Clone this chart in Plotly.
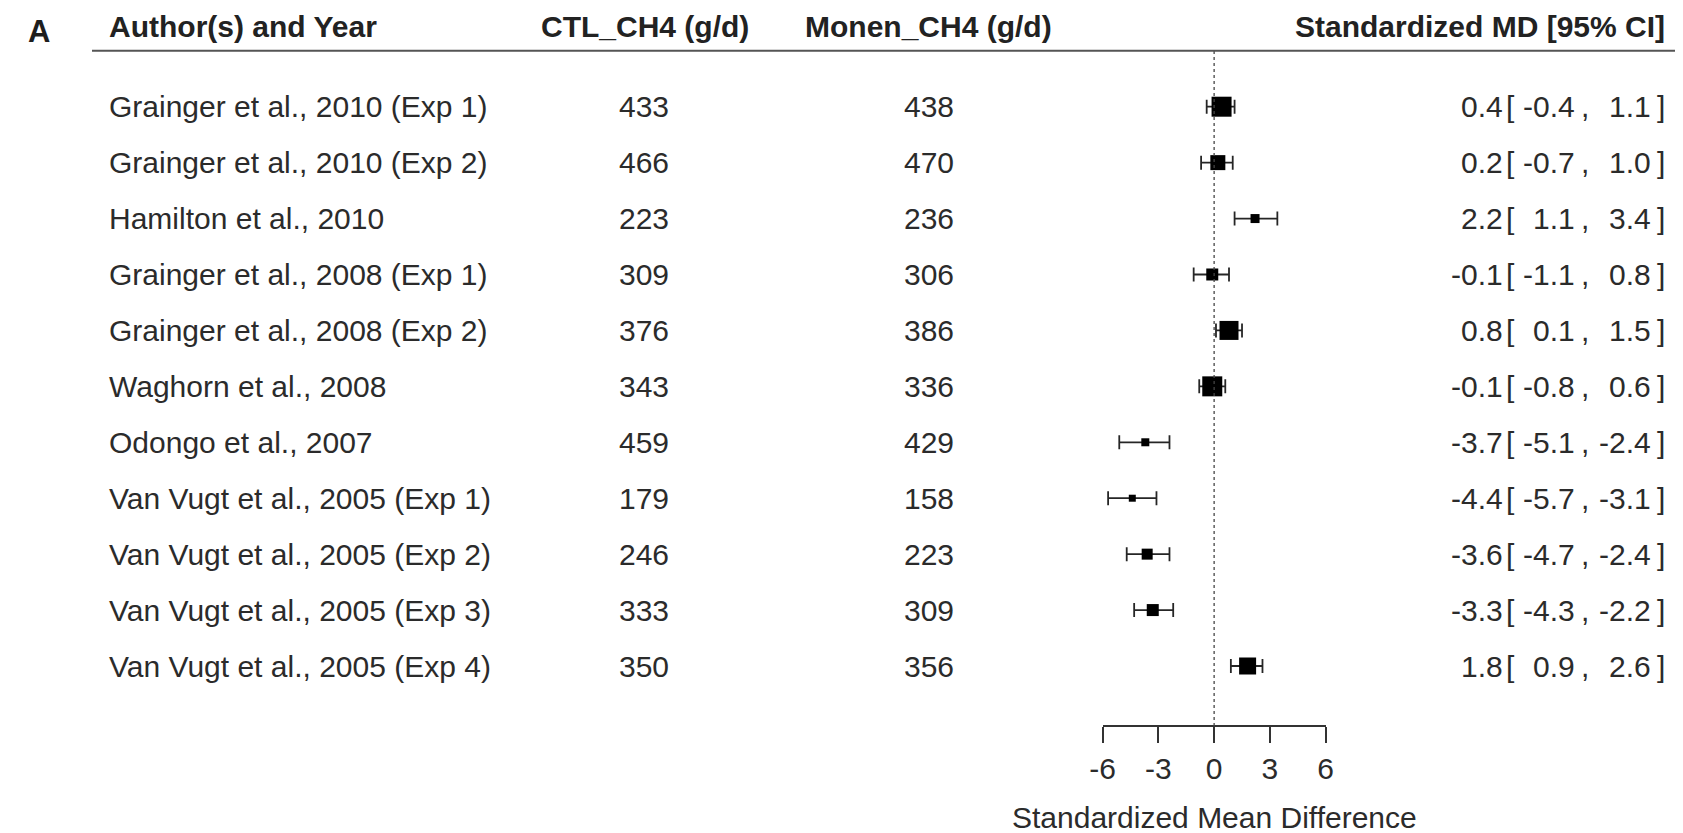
import plotly.graph_objects as go

# ---- study-level data -------------------------------------------------------
studies = [
    "Grainger et al., 2010 (Exp 1)",
    "Grainger et al., 2010 (Exp 2)",
    "Hamilton et al., 2010",
    "Grainger et al., 2008 (Exp 1)",
    "Grainger et al., 2008 (Exp 2)",
    "Waghorn et al., 2008",
    "Odongo et al., 2007",
    "Van Vugt et al., 2005 (Exp 1)",
    "Van Vugt et al., 2005 (Exp 2)",
    "Van Vugt et al., 2005 (Exp 3)",
    "Van Vugt et al., 2005 (Exp 4)",
]
ctl_ch4 = [433, 466, 223, 309, 376, 343, 459, 179, 246, 333, 350]
monen_ch4 = [438, 470, 236, 306, 386, 336, 429, 158, 223, 309, 356]
smd = [0.4, 0.2, 2.2, -0.1, 0.8, -0.1, -3.7, -4.4, -3.6, -3.3, 1.8]
ci_low = [-0.4, -0.7, 1.1, -1.1, 0.1, -0.8, -5.1, -5.7, -4.7, -4.3, 0.9]
ci_high = [1.1, 1.0, 3.4, 0.8, 1.5, 0.6, -2.4, -3.1, -2.4, -2.2, 2.6]

x_ticks = [-6, -3, 0, 3, 6]

# box size (px) reflecting each study's weight
box_px = [20, 15, 9, 12, 19, 20, 8, 7, 11, 12, 17]

# ---- layout constants ---------------------------------------------------------
W, H = 1683, 833
FONT = "Liberation Sans, Arial, sans-serif"
FS = 30
TXT = "#2b2b2b"

k = len(studies)
rows = [k - i for i in range(k)]          # top study at y = k, last at y = 1
ROW_PX, TOP_ROW_PX = 55.93, 106.7           # row spacing / first row position


def px_x(px):
    return px / W


def px_y(py):
    return 1 - py / H


def row_of_px(py):
    return k + (TOP_ROW_PX - py) / ROW_PX


y_range = [row_of_px(H), row_of_px(0)]
axis_row = row_of_px(726)
header_row = k + 1

fig = go.Figure()

# 95% confidence intervals
fig.add_trace(go.Scatter(
    x=smd,
    y=rows,
    mode="markers",
    marker=dict(size=1, color="rgba(0,0,0,0)"),
    error_x=dict(
        type="data",
        symmetric=False,
        array=[h - m for h, m in zip(ci_high, smd)],
        arrayminus=[m - l for m, l in zip(smd, ci_low)],
        color="#262626",
        thickness=1.8,
        width=7,
    ),
    cliponaxis=False,
    showlegend=False,
    hoverinfo="skip",
))

# point estimates, box area by weight
fig.add_trace(go.Scatter(
    x=smd,
    y=rows,
    mode="markers",
    marker=dict(symbol="square", size=box_px, color="#000000", opacity=1,
                line=dict(width=0)),
    cliponaxis=False,
    showlegend=False,
    hoverinfo="skip",
))

shapes = [
    # line of no effect
    dict(type="line", xref="x", yref="y", x0=0, x1=0, y0=axis_row, y1=header_row,
         line=dict(color="#444444", width=1.3, dash="dot")),
    # rule under the column headers
    dict(type="line", xref="paper", yref="y", x0=px_x(80), x1=1, y0=header_row, y1=header_row,
         line=dict(color="#555555", width=2)),
]

ann = []


def text(x, y, s, anchor="left", yref="y", bold=False, size=FS, color=TXT):
    ann.append(dict(
        x=x, y=y, xref="paper", yref=yref, text=f"<b>{s}</b>" if bold else s,
        xanchor=anchor, yanchor="middle", showarrow=False,
        font=dict(family=FONT, size=size, color=color),
    ))


# panel letter and column headers
head_y = px_y(27)
text(px_x(26), px_y(32), "A", anchor="center", yref="paper", bold=True, size=31, color="#1e1e1e")
text(px_x(95), head_y, "Author(s) and Year", yref="paper", bold=True, color="#222222")
text(px_x(640), head_y, "CTL_CH4 (g/d)", anchor="center", yref="paper", bold=True, color="#222222")
text(px_x(927), head_y, "Monen_CH4 (g/d)", anchor="center", yref="paper", bold=True, color="#222222")
text(px_x(1675), head_y, "Standardized MD [95% CI]", anchor="right", yref="paper", bold=True,
     color="#222222")

# study rows
for yv, name, c, m, e, lo, hi in zip(rows, studies, ctl_ch4, monen_ch4, smd, ci_low, ci_high):
    text(px_x(95), yv, name)
    text(px_x(639), yv, str(c), anchor="center")
    text(px_x(928), yv, str(m), anchor="center")
    text(px_x(1511), yv, f"{e:.1f}", anchor="right")
    text(px_x(1510), yv, "[")
    text(px_x(1584), yv, f"{lo:.1f}", anchor="right")
    text(px_x(1586), yv, ",")
    text(px_x(1661), yv, f"{hi:.1f}", anchor="right")
    text(px_x(1663), yv, "]")

# x-axis title
ann.append(dict(
    x=0, y=px_y(817), xref="x", yref="paper", text="Standardized Mean Difference",
    xanchor="center", yanchor="middle", showarrow=False,
    font=dict(family=FONT, size=FS, color=TXT),
))

fig.update_layout(
    width=W, height=H,
    margin=dict(l=0, r=0, t=0, b=0),
    paper_bgcolor="white",
    plot_bgcolor="rgba(0,0,0,0)",
    showlegend=False,
    shapes=shapes,
    annotations=ann,
    xaxis=dict(
        domain=[px_x(1103.3), px_x(1329.3)],
        range=[-6, 6],
        anchor="free",
        position=px_y(726),
        tickvals=x_ticks,
        ticktext=[str(t) for t in x_ticks],
        ticks="outside",
        ticklen=16,
        tickwidth=1.5,
        tickcolor="#333333",
        showline=True,
        linecolor="#333333",
        linewidth=1.5,
        showgrid=False,
        zeroline=False,
        tickfont=dict(family=FONT, size=FS, color=TXT),
        fixedrange=True,
    ),
    yaxis=dict(
        domain=[0, 1],
        range=y_range,
        visible=False,
        showgrid=False,
        zeroline=False,
        fixedrange=True,
    ),
)

fig.write_html("out.html")
